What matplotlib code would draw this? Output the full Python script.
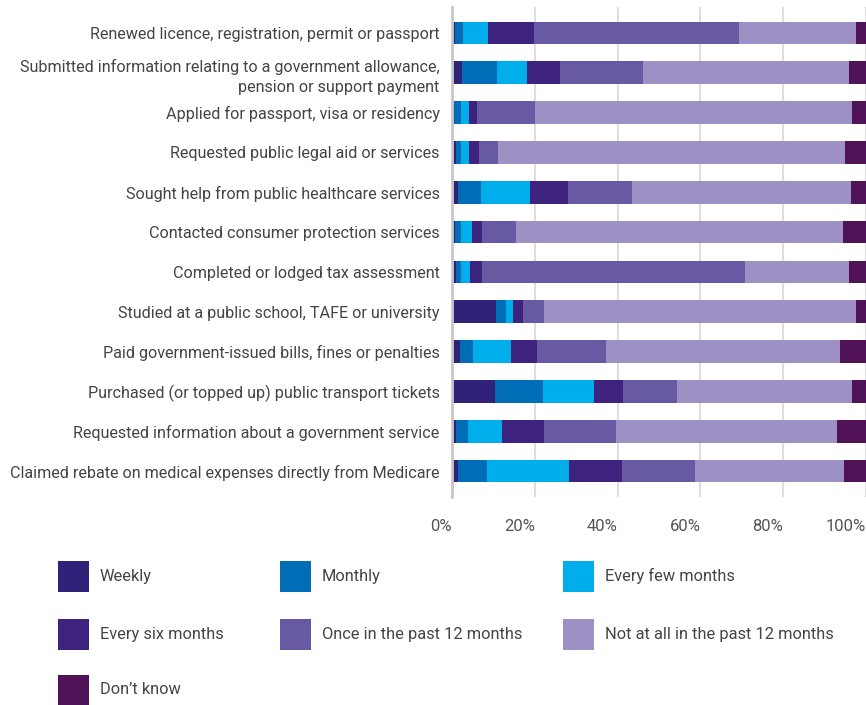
import matplotlib.pyplot as plt
import numpy as np
from matplotlib.patches import Rectangle
from matplotlib.ticker import PercentFormatter

plt.rcParams["font.family"] = ["Roboto", "DejaVu Sans"]

activities = [
    "Renewed licence, registration, permit or passport",
    "Submitted information relating to a government allowance,\npension or support payment",
    "Applied for passport, visa or residency",
    "Requested public legal aid or services",
    "Sought help from public healthcare services",
    "Contacted consumer protection services",
    "Completed or lodged tax assessment",
    "Studied at a public school, TAFE or university",
    "Paid government-issued bills, fines or penalties",
    "Purchased (or topped up) public transport tickets",
    "Requested information about a government service",
    "Claimed rebate on medical expenses directly from Medicare",
]

frequencies = [
    "Weekly",
    "Monthly",
    "Every few months",
    "Every six months",
    "Once in the past 12 months",
    "Not at all in the past 12 months",
    "Don\u2019t know",
]

colors = ["#2e2379", "#006db6", "#00aeeb", "#3d237d", "#685aa2", "#9d90c5", "#511358"]

# share of respondents (%) per activity, one list per frequency
weekly = [0.7, 2.4, 0.4, 1.0, 1.4, 0.7, 1.0, 10.6, 1.9, 10.4, 1.0, 1.4]
monthly = [1.9, 8.4, 1.8, 1.2, 5.5, 1.4, 1.2, 2.4, 3.1, 11.6, 2.9, 7.0]
every_few_months = [6.0, 7.2, 1.9, 1.9, 12.0, 2.7, 2.2, 1.7, 9.2, 12.3, 8.2, 19.8]
every_six_months = [11.1, 8.0, 1.9, 2.4, 9.2, 2.4, 2.9, 2.4, 6.3, 7.0, 10.1, 12.8]
once_past_year = [49.6, 20.2, 14.0, 4.6, 15.4, 8.2, 63.4, 5.1, 16.6, 13.0, 17.3, 17.8]
not_at_all = [28.2, 49.6, 76.6, 83.9, 52.8, 79.0, 25.3, 75.4, 56.6, 42.4, 53.5, 35.9]
dont_know = [2.5, 4.2, 3.4, 5.0, 3.8, 5.6, 4.0, 2.4, 6.3, 3.3, 7.2, 5.3]

series = [weekly, monthly, every_few_months, every_six_months,
          once_past_year, not_at_all, dont_know]

W, H = 866, 705
fig = plt.figure(figsize=(W / 100, H / 100), dpi=100)
ax = fig.add_axes([452 / W, (H - 497) / H, 414 / W, 490 / H])

y = np.arange(len(activities))
left = np.zeros(len(activities))
for vals, col, name in zip(series, colors, frequencies):
    vals = np.array(vals)
    ax.barh(y, vals, left=left, height=0.57, color=col, label=name, zorder=2)
    left += vals

ax.set_xlim(0, 100)
ax.set_ylim(len(activities) - 0.35, -0.65)
ax.set_xticks(np.arange(0, 101, 20))
ax.xaxis.set_major_formatter(PercentFormatter(decimals=0))
ax.set_yticks(y)
ax.set_yticklabels(activities, fontsize=11.6, color="#444444", linespacing=1.45)
ax.tick_params(axis="x", length=0, pad=16, labelsize=12, labelcolor="#555555")
ax.tick_params(axis="y", length=0, pad=9)
# percentage labels sit just left of their gridline
for lbl in ax.get_xticklabels():
    lbl.set_horizontalalignment("right")

ax.grid(axis="x", color="#dedede", linewidth=1.5, zorder=0)
for side in ["top", "right", "bottom"]:
    ax.spines[side].set_visible(False)
ax.spines["left"].set_color("#c8c8c8")
ax.spines["left"].set_linewidth(2)
ax.spines["left"].set_zorder(3)

# legend laid out as a 3-column grid below the chart
col_x = [58, 280, 563]
row_y = [576, 634, 690]
sq = 31
for i, (name, col) in enumerate(zip(frequencies, colors)):
    cx = col_x[i % 3]
    cy = row_y[i // 3]
    fig.patches.append(Rectangle((cx / W, (H - cy - sq / 2) / H), sq / W, sq / H,
                                 transform=fig.transFigure, facecolor=col,
                                 edgecolor="none"))
    fig.text((cx + sq + 11) / W, (H - cy) / H, name, fontsize=11.8,
             color="#444444", va="center", ha="left")

fig.savefig("out.png", dpi=100)
